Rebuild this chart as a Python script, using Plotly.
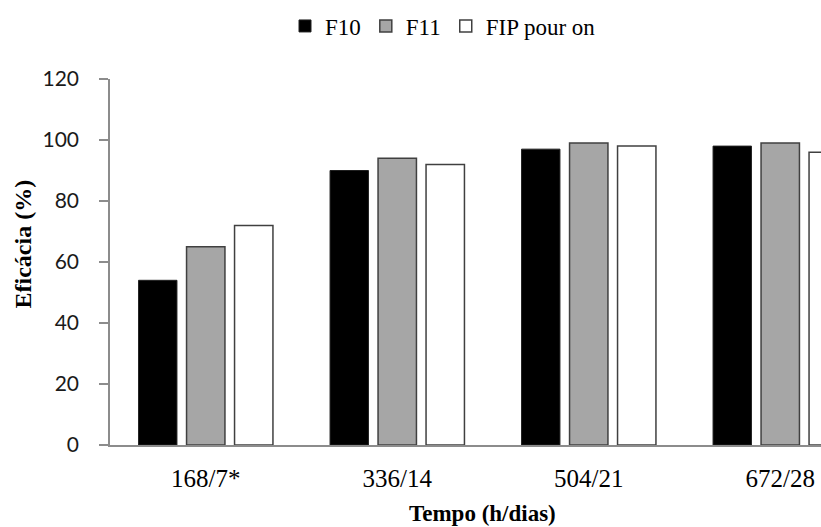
import plotly.graph_objects as go

categories = ["168/7*", "336/14", "504/21", "672/28"]
f10 = [54, 90, 97, 98]
f11 = [65, 94, 99, 99]
fip = [72, 92, 98, 96]
series_names = ["F10", "F11", "FIP pour on"]
y_ticks = [0, 20, 40, 60, 80, 100, 120]

W, H = 821, 527
L, R, T, B = 110, 0, 79, 82
pw = W - L - R
ph = H - T - B
cat_px = 191.5

fig = go.Figure()
fig.add_trace(go.Bar(x=categories, y=f10, name=series_names[0],
                     marker=dict(color="#000000", line=dict(color="#202020", width=1))))
fig.add_trace(go.Bar(x=categories, y=f11, name=series_names[1],
                     marker=dict(color="#a6a6a6", line=dict(color="#404040", width=1.5))))
fig.add_trace(go.Bar(x=categories, y=fip, name=series_names[2],
                     marker=dict(color="#ffffff", line=dict(color="#404040", width=1.5))))

fig.update_layout(
    width=W, height=H,
    margin=dict(l=L, r=R, t=T, b=B, pad=0),
    paper_bgcolor="white", plot_bgcolor="white",
    barmode="group", bargap=0.248, bargroupgap=0.2,
    showlegend=True,
    legend=dict(orientation="h", x=(443 - L) / pw, xanchor="center",
                y=1 + 53 / ph, yanchor="middle",
                font=dict(family="Liberation Serif", size=23, color="black"),
                itemwidth=30, bgcolor="rgba(0,0,0,0)", traceorder="normal"),
    xaxis=dict(type="category", range=[-0.5, -0.5 + pw / cat_px],
               showline=True, linecolor="#8c8c8c", linewidth=1.5,
               ticks="", showgrid=False, zeroline=False,
               ticklabelstandoff=10,
               tickfont=dict(family="Liberation Serif", size=25, color="black")),
    yaxis=dict(range=[0, 120], tickvals=y_ticks, ticktext=[str(v) for v in y_ticks],
               showline=True, linecolor="#8c8c8c", linewidth=1.5,
               ticks="outside", ticklen=9, tickcolor="#8c8c8c", tickwidth=1.5,
               showgrid=False, zeroline=False, ticklabelstandoff=16,
               tickfont=dict(family="Lato", size=21, color="#1a1a1a")),
    annotations=[
        dict(text="<b>Tempo (h/dias)</b>", xref="paper", yref="paper",
             x=(482 - L) / pw, y=-(513 - 445) / ph, xanchor="center", yanchor="middle",
             showarrow=False, font=dict(family="Liberation Serif", size=23, color="black")),
        dict(text="<b>Eficácia (%)</b>", xref="paper", yref="paper",
             x=(22.5 - L) / pw, y=(445 - 244) / ph, xanchor="center", yanchor="middle",
             textangle=-90, showarrow=False,
             font=dict(family="Liberation Serif", size=24, color="black")),
    ],
)

fig.write_html("out.html")
